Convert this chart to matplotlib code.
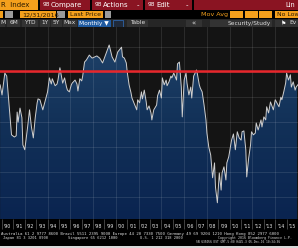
import numpy as np
import pandas as pd
import matplotlib
matplotlib.use('Agg')
import matplotlib.pyplot as plt
import matplotlib.dates as mdates
from matplotlib.patches import Rectangle, PathPatch
from matplotlib.colors import LinearSegmentedColormap

# monthly index readings (approximate)
dates = ['1989-11', '1990-01', '1990-04', '1990-06', '1990-09', '1990-11', '1991-02', '1991-04',
         '1991-05', '1991-06', '1991-08', '1991-10', '1991-11', '1992-01', '1992-04', '1992-06',
         '1992-08', '1992-10', '1992-12', '1993-02', '1993-03', '1993-05', '1993-08', '1993-10',
         '1993-12', '1994-01', '1994-03', '1994-05', '1994-06', '1994-09', '1994-11', '1994-12',
         '1995-02', '1995-04', '1995-05', '1995-07', '1995-09', '1995-10', '1995-12', '1996-02',
         '1996-03', '1996-06', '1996-08', '1996-09', '1996-11', '1997-01', '1997-02', '1997-04',
         '1997-06', '1997-09', '1997-12', '1998-05', '1998-08', '1998-11', '1999-03', '1999-06',
         '1999-09', '1999-12', '2000-03', '2000-07', '2000-08', '2000-10', '2000-12', '2001-01',
         '2001-03', '2001-05', '2001-06', '2001-09', '2001-11', '2001-12', '2002-02', '2002-04',
         '2002-05', '2002-07', '2002-09', '2002-10', '2002-12', '2003-02', '2003-03', '2003-05',
         '2003-08', '2003-09', '2003-11', '2004-01', '2004-02', '2004-04', '2004-06', '2004-07',
         '2004-09', '2004-11', '2004-12', '2005-02', '2005-05', '2005-06', '2005-08', '2005-10',
         '2005-11', '2006-01', '2006-03', '2006-04', '2006-06', '2006-08', '2006-09', '2006-11',
         '2007-02', '2007-03', '2007-05', '2007-06', '2007-08', '2007-10', '2007-12', '2008-01',
         '2008-03', '2008-05', '2008-06', '2008-07', '2008-09', '2008-10', '2008-12', '2009-01',
         '2009-02', '2009-04', '2009-05', '2009-07', '2009-09', '2009-10', '2009-12', '2010-02',
         '2010-03', '2010-05', '2010-07', '2010-09', '2010-11', '2011-01', '2011-02', '2011-04',
         '2011-06', '2011-07', '2011-09', '2011-11', '2011-12', '2012-02', '2012-04', '2012-05',
         '2012-07', '2012-10', '2012-11', '2013-01', '2013-03', '2013-04', '2013-06', '2013-08',
         '2013-11', '2014-01', '2014-05', '2014-07', '2014-08', '2014-10', '2014-12', '2015-01',
         '2015-03', '2015-05', '2015-06', '2015-08', '2015-10', '2015-11', '2016-03']
values = [100.19, 99.96, 100.46, 100.39, 99.57, 99.05, 99.00, 99.03,
          99.57, 99.34, 99.66, 99.44, 98.82, 98.71, 99.23, 99.62,
          99.23, 98.98, 99.44, 99.78, 99.87, 99.85, 99.62, 99.78,
          99.94, 100.03, 100.35, 100.21, 100.33, 100.17, 100.21, 100.30,
          100.58, 100.35, 100.23, 100.35, 100.14, 100.07, 100.03, 100.19,
          100.23, 100.30, 100.21, 100.05, 100.33, 100.28, 100.39, 100.71,
          100.76, 100.87, 100.80, 100.85, 100.80, 100.69, 100.92, 101.10,
          100.83, 100.71, 100.94, 101.05, 100.83, 100.80, 100.69, 100.48,
          100.19, 100.01, 99.89, 99.73, 99.62, 99.85, 99.78, 100.03,
          99.87, 100.07, 99.80, 99.62, 99.71, 99.55, 99.39, 99.62,
          99.73, 99.94, 100.07, 99.89, 100.35, 100.19, 100.30, 100.17,
          100.26, 100.39, 100.35, 100.46, 100.30, 100.67, 100.71, 100.14,
          99.46, 100.30, 100.46, 100.23, 99.96, 100.14, 99.89, 100.39,
          100.53, 100.44, 100.19, 100.12, 100.03, 99.73, 99.39, 99.09,
          98.77, 98.59, 98.32, 98.07, 98.41, 97.86, 97.50, 97.86,
          98.18, 97.79, 98.18, 98.32, 98.02, 98.41, 98.55, 98.82,
          98.93, 99.07, 98.71, 99.12, 98.98, 98.93, 99.12, 99.14,
          98.71, 98.09, 98.52, 98.82, 99.12, 99.05, 99.09, 99.32,
          99.16, 99.39, 99.23, 99.46, 99.39, 99.69, 99.55, 99.80,
          99.62, 99.85, 99.69, 99.91, 99.85, 100.03, 100.23, 100.46,
          100.30, 100.42, 100.14, 100.26, 100.07, 100.14, 100.25]
ref_level = 100.5
year_labels = ["'90", "'91", "'92", "'93", "'94", "'95", "'96", "'97", "'98", "'99", "'00", "'01", "'02",
               "'03", "'04", "'05", "'06", "'07", "'08", "'09", "'10", "'11", "'12", "'13", "'14", "'15"]
legend_rows = [('', '101.1'), ('31/99', '100.1'), ('', '99.1'), ('08/08', '97.5')]

ORANGE = '#f4a01c'
MAROON = '#8a1422'
W, H = 298, 248

fig = plt.figure(figsize=(W / 100, H / 100), dpi=100)
fig.patch.set_facecolor('black')

# screen chrome drawn in pixel coordinates
ui = fig.add_axes([0, 0, 1, 1])
ui.set_xlim(0, W)
ui.set_ylim(H, 0)
ui.axis('off')


def box(x, y, w, h, color, ec='none', lw=0.5, z=1):
    ui.add_patch(Rectangle((x, y), w, h, facecolor=color, edgecolor=ec, linewidth=lw, zorder=z))


def label(x, y, s, color='white', size=5, ha='left', family='DejaVu Sans', z=3):
    ui.text(x, y, s, color=color, fontsize=size, ha=ha, va='center', family=family, zorder=z)


# top menu row
box(0, 0, 38, 10, ORANGE)
label(1, 5, 'R  Index', color='#2a1a00')
for x0, w, txt in [(40, 50, 'Compare'), (92, 51, 'Actions'), (145, 47, 'Edit')]:
    box(x0, 0, w, 10, MAROON)
    label(x0 + 3, 5, '98', size=4.2)
    label(x0 + 11, 5, txt)
    if txt != 'Compare':
        label(x0 + w - 6, 5, '-')
box(194, 0, 104, 10, MAROON)
label(285, 5, 'Lin', size=4.8)

# date / price row
box(0, 11, 3, 7, ORANGE)
box(5, 11, 8, 7, '#9a9a9a')
box(20, 11, 36, 7, ORANGE)
label(22, 14.6, '12/31/2016', color='#2a1a00', size=4.6)
box(57, 11, 8, 7, '#9a9a9a')
box(68, 11, 35, 7, ORANGE)
label(70, 14.6, 'Last Price', color='#2a1a00', size=4.6)
box(105, 11, 6, 7, '#9a9a9a')
label(201, 14.6, 'Mov Avg', color=ORANGE, size=4.6)
for x0 in (230, 245, 259):
    box(x0, 11, 13, 7, ORANGE)
box(275, 11, 23, 7, ORANGE)
label(277, 14.6, 'No Low', color='#2a1a00', size=4.4)

# toolbar row
box(0, 19, W, 8, '#262626')
for x0, w, txt in [(-3, 8, 'M'), (7, 13, '6M'), (22, 16, 'YTD'), (40, 10, '1Y'),
                   (51, 11, '5Y'), (63, 14, 'Max')]:
    box(x0, 19.5, w, 7, '#333333')
    label(max(x0 + w / 2, 2.5), 23, txt, size=4.2, ha='center', color='#dddddd')
box(78, 19.5, 33, 7, '#1f5aa0')
label(94, 23, 'Monthly \u25bc', size=4.2, ha='center')
box(113, 19.5, 10, 7, '#202a3a', ec='#2f6fc0')
box(127, 19.5, 21, 7, '#333333')
label(137.5, 23, 'Table', size=4.2, ha='center', color='#dddddd')
box(186, 19.5, 16, 7, '#333333')
label(194, 23, '\u00ab', size=5, ha='center', color='#dddddd')
box(210, 19.5, 62, 7, '#333333')
label(228, 23, 'Security/Study', size=4.2, color='#dddddd')
box(275, 19.5, 23, 7, '#333333')
label(281, 23, '\u2691', size=4.2, color='white')
label(289, 23, 'Ev', size=4.2, color='#dddddd')

# chart panel
ax = fig.add_axes([0, 1 - 219 / H, 1, 192 / H])
ax.set_facecolor('#141414')
x = mdates.date2num(pd.to_datetime(dates))
x0, x1 = mdates.date2num(pd.Timestamp('1989-10-28')), mdates.date2num(pd.Timestamp('2015-11-16'))
y0, y1 = 97.13, 101.51

fill = ax.fill_between(x, values, y0, facecolor='none', edgecolor='none')
clip = PathPatch(fill.get_paths()[0], transform=ax.transData, facecolor='none', edgecolor='none')
ax.add_patch(clip)
cmap = LinearSegmentedColormap.from_list('bbg', ['#0a2450', '#123158', '#21446b'])
grad = np.linspace(1, 0, 256).reshape(-1, 1)
im = ax.imshow(grad, extent=[x0, x1, y0, y1], aspect='auto', cmap=cmap, origin='upper', zorder=1)
im.set_clip_path(clip)

for yr in range(1992, 2016, 2):
    ax.axvline(mdates.date2num(pd.Timestamp(f'{yr}-01-01')), color='white', alpha=0.12, lw=0.6, zorder=2)
for lvl in [101.05, 100.48, 99.91, 99.34, 98.77, 98.20, 97.63]:
    ax.axhline(lvl, color='white', alpha=0.12, lw=0.6, zorder=2)

ax.plot(x, values, color='#cfcfcf', lw=0.7, zorder=3)
ax.axhline(ref_level, color='#e8262b', lw=1.8, zorder=4)

ax.set_xlim(x0, x1)
ax.set_ylim(y0, y1)
for s in ax.spines.values():
    s.set_visible(False)
ax.set_yticks([])

year_starts = mdates.date2num(pd.to_datetime([f'{1990 + i}-01-01' for i in range(len(year_labels) + 1)]))
year_mids = mdates.date2num(pd.to_datetime([f'{1990 + i}-07-01' for i in range(len(year_labels))]))
ax.set_xticks(year_starts)
ax.set_xticklabels([])
ax.tick_params(axis='x', which='major', length=7, width=0.5, color='#5a5a5a', direction='out')
ax.set_xticks(year_mids, minor=True)
ax.set_xticklabels(year_labels, minor=True)
ax.tick_params(axis='x', which='minor', length=0, pad=3.5, labelsize=3.4, labelcolor='#e6e6e6')

# legend box in the upper-left corner
box(0, 29, 58, 23, '#0b0b0b', z=5)
for i, (left, right) in enumerate(legend_rows):
    yy = 32.5 + i * 5.7
    label(1, yy, left, size=3.3, color='#c8c8c8', family='DejaVu Sans Mono', z=6)
    label(57, yy, right, size=3.3, color='#c8c8c8', ha='right', family='DejaVu Sans Mono', z=6)

# footer
mono = 'DejaVu Sans Mono'
fc = '#dcdcdc'
label(1, 234.5, 'Australia 61 2 9777 8600 Brazil 5511 2395 9000 Europe 44 20 7330 7500 Germany 49 69 9204 1210 Hong Kong 852 2977 6000',
      size=2.9, color=fc, family=mono)
label(3, 238.3, 'Japan 81 3 3201 8900', size=2.7, color=fc, family=mono)
label(68, 238.3, 'Singapore 65 6212 1000', size=2.7, color=fc, family=mono)
label(140, 238.3, 'U.S. 1 212 318 2000', size=2.7, color=fc, family=mono)
label(218, 238.3, 'Copyright 2016 Bloomberg Finance L.P.', size=2.3, color=fc, family=mono)
label(196, 242.2, 'SN 635056 EST GMT-5:00 H445-3 05-Dec-16 10:34:36', size=2.2, color=fc, family=mono)
box(0, 245.5, W, 3, '#d8d8d8')

fig.savefig('out.png', dpi=100, facecolor=fig.get_facecolor())
